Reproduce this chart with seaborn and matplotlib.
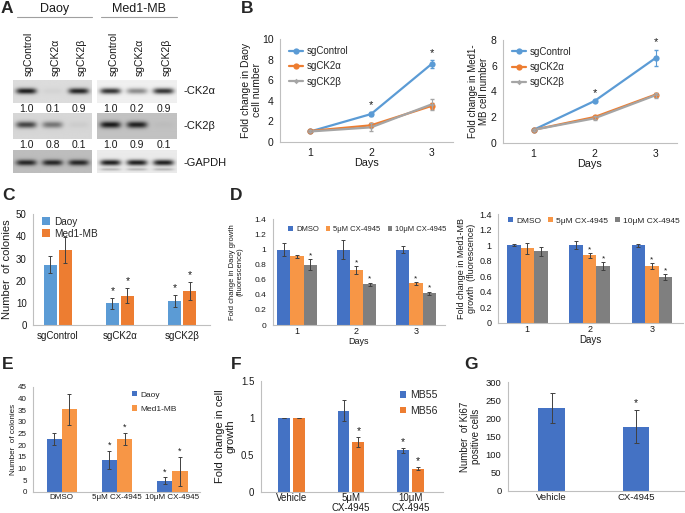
import numpy as np
import pandas as pd
import matplotlib

matplotlib.use("Agg")
import matplotlib.pyplot as plt
import matplotlib.transforms as mtransforms
import seaborn as sns

# ---------------- data ----------------
# A: western blot quantification (relative to sgControl)
BLOT_LANES = ["sgControl", "sgCK2\u03b1", "sgCK2\u03b2"]
CK2A_DAOY = [1.0, 0.1, 0.9]
CK2A_MED1 = [1.0, 0.2, 0.9]
CK2B_DAOY = [1.0, 0.8, 0.1]
CK2B_MED1 = [1.0, 0.9, 0.1]
# band darkness used to render the blot strips
BAND_CK2A_DAOY = [0.95, 0.04, 0.92]
BAND_CK2A_MED1 = [0.85, 0.45, 0.85]
BAND_CK2B_DAOY = [0.75, 0.5, 0.05]
BAND_CK2B_MED1 = [0.97, 0.93, 0.03]
BAND_GAPDH_DAOY = [0.9, 0.9, 0.9]
BAND_GAPDH_MED1 = [0.95, 0.95, 0.95]

# B: cell number growth curves
DAYS = [1, 2, 3]
GROWTH_GROUPS = ["sgControl", "sgCK2\u03b1", "sgCK2\u03b2"]
DAOY_CTRL = [1.0, 2.7, 7.6]
DAOY_CK2A = [1.05, 1.6, 3.5]
DAOY_CK2B = [1.0, 1.4, 3.65]
DAOY_CTRL_ERR = [0.1, 0.2, 0.4]
DAOY_CK2A_ERR = [0.1, 0.2, 0.3]
DAOY_CK2B_ERR = [0.1, 0.4, 0.55]
MED1_CTRL = [1.0, 3.25, 6.6]
MED1_CK2A = [1.0, 2.0, 3.75]
MED1_CK2B = [1.0, 1.9, 3.7]
MED1_CTRL_ERR = [0.05, 0.1, 0.65]
MED1_CK2A_ERR = [0.05, 0.1, 0.15]
MED1_CK2B_ERR = [0.05, 0.15, 0.2]

# C: colony numbers after knockout
C_CATS = ["sgControl", "sgCK2\u03b1", "sgCK2\u03b2"]
C_DAOY = [27.3, 9.8, 11.0]
C_MED1 = [33.8, 13.3, 15.4]
C_DAOY_ERR = [3.8, 2.6, 2.7]
C_MED1_ERR = [6.0, 3.3, 3.9]
C_DAOY_STAR = [False, True, True]
C_MED1_STAR = [False, True, True]

# D: fluorescence growth with CX-4945
D_DOSES = ["DMSO", "5\u03bcM CX-4945", "10\u03bcM CX-4945"]
D_DAYS = ["1", "2", "3"]
DL_DMSO = [1.0, 1.0, 1.0]
DL_5UM = [0.91, 0.73, 0.55]
DL_10UM = [0.80, 0.54, 0.42]
DL_DMSO_ERR = [0.08, 0.12, 0.04]
DL_5UM_ERR = [0.02, 0.05, 0.02]
DL_10UM_ERR = [0.07, 0.02, 0.02]
DL_DMSO_STAR = [False, False, False]
DL_5UM_STAR = [False, True, True]
DL_10UM_STAR = [True, True, True]
DR_DMSO = [1.0, 1.0, 1.0]
DR_5UM = [0.96, 0.87, 0.73]
DR_10UM = [0.92, 0.73, 0.59]
DR_DMSO_ERR = [0.01, 0.05, 0.02]
DR_5UM_ERR = [0.07, 0.03, 0.04]
DR_10UM_ERR = [0.06, 0.05, 0.04]
DR_DMSO_STAR = [False, False, False]
DR_5UM_STAR = [False, True, True]
DR_10UM_STAR = [False, True, True]

# E: colony numbers with CX-4945
E_CATS = ["DMSO", "5\u03bcM CX-4945", "10\u03bcM CX-4945"]
E_DAOY = [22.6, 13.7, 4.7]
E_MED1 = [35.4, 22.6, 8.8]
E_DAOY_ERR = [2.7, 3.8, 1.6]
E_MED1_ERR = [6.6, 2.7, 6.2]
E_DAOY_STAR = [False, True, True]
E_MED1_STAR = [False, True, True]

# F: PDX cell growth
F_CATS = ["Vehicle", "5\u03bcM\nCX-4945", "10\u03bcM\nCX-4945"]
F_MB55 = [1.0, 1.1, 0.56]
F_MB56 = [1.0, 0.67, 0.31]
F_MB55_ERR = [0.0, 0.14, 0.03]
F_MB56_ERR = [0.0, 0.07, 0.02]
F_MB55_STAR = [False, False, True]
F_MB56_STAR = [False, True, True]

# G: Ki67 positive cells
G_CATS = ["Vehicle", "CX-4945"]
G_KI67 = [229, 178]
G_KI67_ERR = [41, 45]
G_STAR = [False, True]

# ---------------- style ----------------
sns.set_style("white")
plt.rcParams["font.family"] = ["Liberation Sans", "DejaVu Sans"]
plt.rcParams["axes.facecolor"] = "white"

AXIS_GRAY = "#BFBFBF"
TEXT = "#1a1a1a"
B_COLORS = ["#5B9BD5", "#ED7D31", "#A5A5A5"]
D_COLORS = ["#4472C4", "#F79646", "#7F7F7F"]

W, H = 685, 513
fig = plt.figure(figsize=(W / 100, H / 100), dpi=100)
PX = mtransforms.Affine2D().scale(1 / W, -1 / H).translate(0, 1) + fig.transFigure


def add_ax(left, top, right, bottom):
    return fig.add_axes([left / W, 1 - bottom / H, (right - left) / W, (bottom - top) / H])


def excel_style(ax, ymax, step, fs, xfs=None):
    ax.set_ylim(0, ymax)
    ticks = np.arange(0, ymax + step / 2, step)
    ax.set_yticks(ticks)
    ax.set_yticklabels([f"{round(t, 2):g}" for t in ticks])
    for s in ["top", "right"]:
        ax.spines[s].set_visible(False)
    for s in ["left", "bottom"]:
        ax.spines[s].set_color(AXIS_GRAY)
        ax.spines[s].set_linewidth(0.8)
    ax.tick_params(axis="both", which="both", colors=AXIS_GRAY, labelcolor=TEXT,
                   length=3, width=0.7, labelsize=fs, pad=1.5)
    if xfs:
        ax.tick_params(axis="x", labelsize=xfs)


def boundary_ticks(ax, n):
    ax.set_xticks(np.arange(-0.5, n, 1), minor=True)
    ax.tick_params(axis="x", which="major", length=0)
    ax.tick_params(axis="x", which="minor", length=3, colors=AXIS_GRAY)


def ylabel_at(ax, text, right_px, fs):
    ax.set_ylabel(text, fontsize=fs, color=TEXT, linespacing=1.1)
    bb = ax.get_position()
    cy = (1 - (bb.y0 + bb.height / 2)) * H
    ax.yaxis.set_label_coords(right_px, cy, transform=PX)


def square_legend(ax, fs, **kw):
    opts = dict(frameon=False, fontsize=fs, handlelength=0.6, handleheight=0.6,
                handletextpad=0.4)
    opts.update(kw)
    h, l = ax.get_legend_handles_labels()
    ax.legend(h, l, **opts)


def bar_panel(ax, cats, series, names, errs, stars, palette, width, gap, star_fs, star_pad):
    df = pd.DataFrame({
        "cat": list(cats) * len(series),
        "value": np.concatenate(series),
        "series": np.repeat(names, len(cats)),
    })
    sns.barplot(data=df, x="cat", y="value", hue="series", palette=palette, width=width,
                gap=gap, errorbar=None, saturation=1, linewidth=0, ax=ax)
    bars = list(ax.containers)
    for cont, err, st in zip(bars, errs, stars):
        xs = [p.get_x() + p.get_width() / 2 for p in cont]
        hs = [p.get_height() for p in cont]
        ax.errorbar(xs, hs, yerr=err, fmt="none", ecolor="#404040", elinewidth=0.7,
                    capsize=1.6, capthick=0.7)
        for x, h, e, s in zip(xs, hs, err, st):
            if s:
                ax.text(x, h + e + star_pad, "*", ha="center", va="bottom",
                        fontsize=star_fs, color=TEXT)
    ax.set_xlabel("")


def growth_panel(ax, vals, errs, ymax, star_fs):
    df = pd.DataFrame({
        "day": DAYS * 3,
        "value": np.concatenate(vals),
        "group": np.repeat(GROWTH_GROUPS, 3),
    })
    sns.lineplot(data=df, x="day", y="value", hue="group", style="group",
                 palette=B_COLORS, markers=["o", "o", "D"], dashes=False, lw=1.6,
                 markersize=4.5, markeredgewidth=0, ax=ax)
    ax.lines[2].set_markersize(2.8)
    for v, e, c in zip(vals, errs, B_COLORS):
        ax.errorbar(DAYS, v, yerr=e, fmt="none", ecolor=c, elinewidth=0.8, capsize=1.5)
    for d, v, e in zip(DAYS[1:], vals[0][1:], errs[0][1:]):
        ax.text(d, v + e + ymax * 0.02, "*", ha="center", va="bottom", fontsize=star_fs, color=TEXT)
    ax.set_xticks(DAYS)
    ax.set_xlim(0.5, 3.35)
    ax.set_xlabel("Days", fontsize=7.8, color=TEXT, labelpad=0)
    h, l = ax.get_legend_handles_labels()
    h[2].set_markersize(2.8)
    ax.legend(h, l, loc="upper left", bbox_to_anchor=(0.0, 1.02), frameon=False,
              fontsize=7, handlelength=1.5, handletextpad=0.3, labelspacing=0.55)


def panel_letter(x, y, s):
    fig.text(x, y, s, transform=PX, fontsize=12.5, fontweight="bold", va="top", ha="left")


# ---------------- A: blots ----------------
ax_a = add_ax(0, 0, 232, 185)
ax_a.axis("off")

BOX_X = {"Daoy": (13, 92), "Med1-MB": (97, 177)}
ROWS = [(80, 103, 0.48), (113, 139, 0.45), (150, 173, 0.55)]


def blot_strip(bg, levels, ypos, extra=False):
    xs = np.linspace(0, 1, 160)
    ys = np.linspace(0, 1, 48)
    img = np.full((ys.size, xs.size), bg)
    n = len(levels)
    for i, lev in enumerate(levels):
        px = np.exp(-((xs - (i + 0.5) / n) / 0.13) ** 4)
        py = np.exp(-((ys - ypos) / 0.13) ** 2)
        img -= lev * (bg - 0.08) * np.outer(py, px)
        if extra:
            py2 = np.exp(-((ys - 0.85) / 0.06) ** 2)
            img -= 0.25 * lev * (bg - 0.08) * np.outer(py2, px)
    return np.clip(img, 0, 1)


strips = [
    ("Daoy", 0, 0.86, BAND_CK2A_DAOY, False), ("Med1-MB", 0, 0.94, BAND_CK2A_MED1, False),
    ("Daoy", 1, 0.84, BAND_CK2B_DAOY, False), ("Med1-MB", 1, 0.76, BAND_CK2B_MED1, False),
    ("Daoy", 2, 0.74, BAND_GAPDH_DAOY, False), ("Med1-MB", 2, 0.92, BAND_GAPDH_MED1, True),
]
for line, r, bg, levels, extra in strips:
    x0, x1 = BOX_X[line]
    y0, y1, yp = ROWS[r]
    ax_a.imshow(blot_strip(bg, levels, yp, extra), cmap="gray", vmin=0, vmax=1,
                extent=(x0, x1, y1, y0), aspect="auto", interpolation="bilinear")

ax_a.set_xlim(0, 232)
ax_a.set_ylim(185, 0)


def lane_x(line):
    x0, x1 = BOX_X[line]
    return [x0 + (i + 0.5) * (x1 - x0) / 3 for i in range(3)]


for line in ["Daoy", "Med1-MB"]:
    x0, x1 = BOX_X[line]
    ax_a.text((x0 + x1) / 2 + 2, 9, line, ha="center", va="center", fontsize=9, color=TEXT)
    ax_a.plot([x0 + 4, x1], [17, 17], color="#A0A0A0", lw=0.8)
    for x, lab in zip(lane_x(line), BLOT_LANES):
        ax_a.text(x + 3, 76, lab, rotation=90, ha="center", va="bottom", fontsize=7.5, color=TEXT)

for line, q1, q2 in [("Daoy", CK2A_DAOY, CK2B_DAOY), ("Med1-MB", CK2A_MED1, CK2B_MED1)]:
    for x, a, b in zip(lane_x(line), q1, q2):
        ax_a.text(x, 108.5, f"{a:.1f}", ha="center", va="center", fontsize=7.5, color=TEXT)
        ax_a.text(x, 145, f"{b:.1f}", ha="center", va="center", fontsize=7.5, color=TEXT)

for lab, y in [("-CK2\u03b1", 91), ("-CK2\u03b2", 126), ("-GAPDH", 163)]:
    ax_a.text(183, y, lab, ha="left", va="center", fontsize=8, color=TEXT)

# ---------------- B ----------------
ax_b1 = add_ax(280, 39.3, 453, 141.7)
growth_panel(ax_b1, [DAOY_CTRL, DAOY_CK2A, DAOY_CK2B],
             [DAOY_CTRL_ERR, DAOY_CK2A_ERR, DAOY_CK2B_ERR], 10, 8)
excel_style(ax_b1, 10, 2, 7.5, 7.5)
ylabel_at(ax_b1, "Fold change in Daoy\ncell number", 262, 7.5)

ax_b2 = add_ax(503, 40, 677, 142.7)
growth_panel(ax_b2, [MED1_CTRL, MED1_CK2A, MED1_CK2B],
             [MED1_CTRL_ERR, MED1_CK2A_ERR, MED1_CK2B_ERR], 8, 8)
excel_style(ax_b2, 8, 2, 7.5, 7.5)
ylabel_at(ax_b2, "Fold change in Med1-\nMB cell number", 489, 7)

# ---------------- C ----------------
ax_c = add_ax(33, 214.3, 210, 325)
bar_panel(ax_c, C_CATS, [C_DAOY, C_MED1], ["Daoy", "Med1-MB"], [C_DAOY_ERR, C_MED1_ERR],
          [C_DAOY_STAR, C_MED1_STAR], B_COLORS[:2], 0.48, 0.15, 7.5, 0.8)
excel_style(ax_c, 50, 10, 7, 7)
ax_c.set_xlim(-0.4, 2.45)
ylabel_at(ax_c, "Number  of colonies", 12, 8)
square_legend(ax_c, 7.2, loc="upper left", bbox_to_anchor=(0.0, 1.06), labelspacing=0.2,
              handlelength=0.8, handleheight=0.8)

# ---------------- D ----------------
ax_d1 = add_ax(272.7, 219.3, 445, 325)
bar_panel(ax_d1, D_DAYS, [DL_DMSO, DL_5UM, DL_10UM], D_DOSES,
          [DL_DMSO_ERR, DL_5UM_ERR, DL_10UM_ERR], [DL_DMSO_STAR, DL_5UM_STAR, DL_10UM_STAR],
          D_COLORS, 0.67, 0, 6, 0.0)
excel_style(ax_d1, 1.4, 0.2, 6, 6.5)
boundary_ticks(ax_d1, 3)
ax_d1.set_xlim(-0.41, 2.49)
ax_d1.set_xlabel("Days", fontsize=6.5, color=TEXT, labelpad=1)
ylabel_at(ax_d1, "Fold change in Daoy growth\n(fluorescence)", 244, 5.5)
square_legend(ax_d1, 5.5, loc="upper center", bbox_to_anchor=(0.55, 1.0), ncol=3,
              columnspacing=0.9)

ax_d2 = add_ax(498, 214, 683, 323)
bar_panel(ax_d2, D_DAYS, [DR_DMSO, DR_5UM, DR_10UM], D_DOSES,
          [DR_DMSO_ERR, DR_5UM_ERR, DR_10UM_ERR], [DR_DMSO_STAR, DR_5UM_STAR, DR_10UM_STAR],
          D_COLORS, 0.65, 0, 6, 0.0)
excel_style(ax_d2, 1.4, 0.2, 6.5, 6.5)
boundary_ticks(ax_d2, 3)
ax_d2.set_xlim(-0.47, 2.5)
ax_d2.set_xlabel("Days", fontsize=7, color=TEXT, labelpad=1)
ylabel_at(ax_d2, "Fold change in Med1-MB\ngrowth  (fluorescence)", 476, 6.5)
square_legend(ax_d2, 6, loc="upper center", bbox_to_anchor=(0.52, 1.04), ncol=3,
              columnspacing=0.8)

# ---------------- E ----------------
ax_e = add_ax(33, 386.7, 200, 491.7)
bar_panel(ax_e, E_CATS, [E_DAOY, E_MED1], ["Daoy", "Med1-MB"], [E_DAOY_ERR, E_MED1_ERR],
          [E_DAOY_STAR, E_MED1_STAR], D_COLORS[:2], 0.55, 0, 6.5, 0.3)
excel_style(ax_e, 45, 5, 5.8, 5.8)
boundary_ticks(ax_e, 3)
ax_e.set_xlim(-0.52, 2.5)
ylabel_at(ax_e, "Number  of colonies", 17, 5.8)
square_legend(ax_e, 6, loc="upper left", bbox_to_anchor=(0.55, 1.03), labelspacing=0.8)

# ---------------- F ----------------
ax_f = add_ax(260.7, 381, 443, 491.7)
bar_panel(ax_f, F_CATS, [F_MB55, F_MB56], ["MB55", "MB56"], [F_MB55_ERR, F_MB56_ERR],
          [F_MB55_STAR, F_MB56_STAR], ["#4472C4", "#ED7D31"], 0.5, 0.2, 7.5, 0.02)
excel_style(ax_f, 1.5, 0.5, 7, 7)
ax_f.tick_params(axis="x", length=0, pad=1)
for t in ax_f.get_xticklabels():
    t.set_linespacing(0.95)
ax_f.set_xlim(-0.52, 2.55)
ylabel_at(ax_f, "Fold change in cell\ngrowth", 236, 8)
square_legend(ax_f, 7.6, loc="upper left", bbox_to_anchor=(0.71, 1.0), labelspacing=0.5)

# ---------------- G ----------------
ax_g = add_ax(507.7, 382.3, 684, 491)
df_g = pd.DataFrame({"cat": G_CATS, "value": G_KI67})
sns.barplot(data=df_g, x="cat", y="value", color="#4472C4", width=0.315, errorbar=None,
            saturation=1, linewidth=0, ax=ax_g)
bars_g = ax_g.containers[0]
gx = [p.get_x() + p.get_width() / 2 for p in bars_g]
ax_g.errorbar(gx, G_KI67, yerr=G_KI67_ERR, fmt="none", ecolor="#404040", elinewidth=0.7,
              capsize=1.8, capthick=0.7)
for x, v, e, s in zip(gx, G_KI67, G_KI67_ERR, G_STAR):
    if s:
        ax_g.text(x, v + e + 5, "*", ha="center", va="bottom", fontsize=7.5, color=TEXT)
excel_style(ax_g, 300, 50, 6.8, 6.8)
ax_g.tick_params(axis="x", length=0)
ax_g.set_xlim(-0.52, 1.57)
ax_g.set_xlabel("")
ylabel_at(ax_g, "Number  of Ki67\npositive cells", 481, 7)

# ---------------- panel letters ----------------
panel_letter(1, 1, "A")
panel_letter(241, 1, "B")
panel_letter(2, 188, "C")
panel_letter(230, 188, "D")
panel_letter(2, 357, "E")
panel_letter(231, 357, "F")
panel_letter(464, 357, "G")

fig.savefig("out.png", dpi=100, facecolor="white")
